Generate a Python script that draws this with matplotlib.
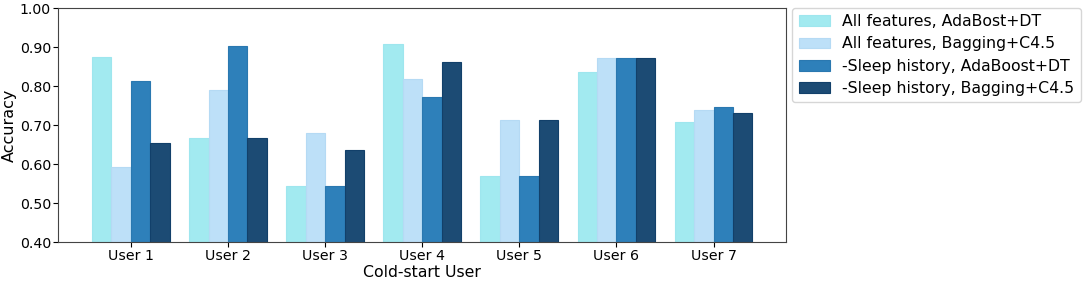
import numpy as np
import matplotlib
matplotlib.use("Agg")
import matplotlib.pyplot as plt

users = ["User 1", "User 2", "User 3", "User 4", "User 5", "User 6", "User 7"]
series_names = [
    "All features, AdaBost+DT",
    "All features, Bagging+C4.5",
    "-Sleep history, AdaBoost+DT",
    "-Sleep history, Bagging+C4.5",
]
all_ada = [0.874, 0.666, 0.545, 0.909, 0.571, 0.836, 0.709]
all_bag = [0.593, 0.791, 0.681, 0.818, 0.714, 0.871, 0.740]
nosleep_ada = [0.812, 0.904, 0.545, 0.772, 0.571, 0.871, 0.747]
nosleep_bag = [0.655, 0.666, 0.636, 0.863, 0.714, 0.871, 0.732]

colors = ["#a2eaf0", "#bde0f8", "#2e80ba", "#1c4b74"]
edges = ["#9ee6ee", "#b5daf4", "#2a78b0", "#12406a"]

fig = plt.figure(figsize=(10.84, 2.81), dpi=100)
ax = fig.add_axes([0.0535, 0.138, 0.672, 0.833])

x = np.arange(len(users))
w = 0.2
for i, vals in enumerate([all_ada, all_bag, nosleep_ada, nosleep_bag]):
    ax.bar(x + (i - 1.5) * w, vals, w, color=colors[i], edgecolor=edges[i],
           linewidth=0.8, label=series_names[i])

ax.set_ylim(0.4, 1.0)
ax.set_xlim(-0.75, 6.75)
ax.set_yticks(np.arange(0.4, 1.01, 0.1))
ax.set_yticklabels([f"{v:.2f}" for v in np.arange(0.4, 1.01, 0.1)])
ax.set_xticks(x)
ax.set_xticklabels(users)
ax.tick_params(labelsize=10.2, pad=1.5, length=3.5)
ax.set_xlabel("Cold-start User", fontsize=11.3, labelpad=1)
ax.set_ylabel("Accuracy", fontsize=11.5)
ax.yaxis.set_label_coords(-0.057, 0.5)
for s in ax.spines.values():
    s.set_color("#444444")

ax.legend(loc="upper left", bbox_to_anchor=(1.008, 1.0), borderaxespad=0,
          fontsize=11.3, handlelength=2.0, labelspacing=0.45)

fig.savefig("out.png", dpi=100)
